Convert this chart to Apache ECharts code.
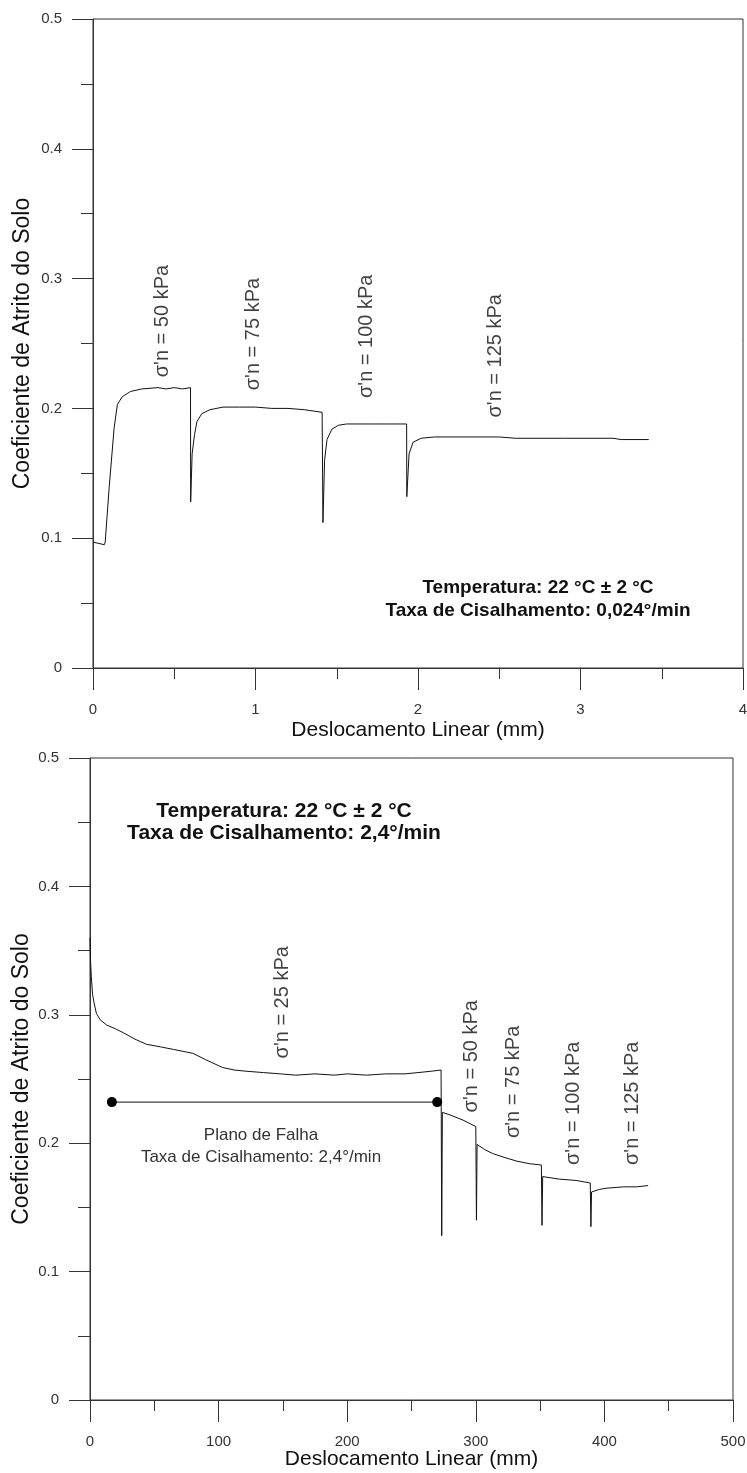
<!DOCTYPE html>
<html><head><meta charset="utf-8">
<script src="https://cdn.jsdelivr.net/npm/echarts@6/dist/echarts.min.js"></script>
<style>html,body{margin:0;padding:0;background:#fff}#c{width:747px;height:1473px}</style>
</head><body><div id="c"></div>
<script>
// ---- data ----
const topCurve = [[0,0.097],[0.07,0.095],[0.075,0.097],[0.1,0.14],[0.13,0.185],[0.15,0.203],[0.18,0.209],[0.23,0.213],[0.3,0.215],[0.4,0.216],[0.45,0.215],[0.5,0.216],[0.55,0.215],[0.6,0.216],[0.601,0.128],[0.61,0.165],[0.625,0.18],[0.64,0.19],[0.67,0.196],[0.72,0.199],[0.8,0.201],[0.9,0.201],[1.0,0.201],[1.1,0.2],[1.2,0.2],[1.3,0.199],[1.41,0.197],[1.415,0.112],[1.425,0.16],[1.44,0.176],[1.47,0.184],[1.51,0.187],[1.56,0.188],[1.7,0.188],[1.8,0.188],[1.93,0.188],[1.931,0.132],[1.945,0.165],[1.97,0.174],[2.02,0.177],[2.1,0.178],[2.3,0.178],[2.5,0.178],[2.6,0.177],[2.9,0.177],[3.2,0.177],[3.25,0.176],[3.42,0.176]];
const bottomCurve = [[0,0.36],[0.5,0.34],[1,0.33],[2,0.316],[3,0.31],[5,0.301],[8,0.296],[13,0.292],[20,0.289],[26,0.286],[35,0.281],[44,0.277],[55,0.275],[65,0.273],[75,0.271],[80,0.27],[90,0.265],[103,0.259],[112,0.257],[122,0.256],[135,0.255],[148,0.254],[160,0.253],[175,0.254],[190,0.253],[200,0.254],[215,0.253],[230,0.254],[245,0.254],[255,0.255],[265,0.256],[273,0.257],[273.5,0.128],[274,0.224],[280,0.222],[290,0.218],[300,0.213],[300.5,0.14],[301,0.199],[307,0.195],[313,0.192],[322,0.189],[332,0.186],[342,0.184],[351,0.183],[351.5,0.136],[352,0.174],[365,0.172],[378,0.171],[389,0.169],[389.5,0.135],[390,0.162],[396,0.164],[402,0.165],[415,0.166],[425,0.166],[434,0.167]];
const failurePlane = [[17,0.232],[270,0.232]];
const topLabels = ["σ'n = 50 kPa","σ'n = 75 kPa","σ'n = 100 kPa","σ'n = 125 kPa"];
const topLabelAt = [[0.425,0.224],[0.985,0.214],[1.68,0.208],[2.474,0.193]];
const bottomLabels = ["σ'n = 25 kPa","σ'n = 50 kPa","σ'n = 75 kPa","σ'n = 100 kPa","σ'n = 125 kPa"];
const bottomLabelAt = [[150,0.266],[297,0.224],[329,0.204],[376,0.183],[422,0.183]];
const topXRange = [0,4,1];
const bottomXRange = [0,500,100];
const yRange = [0,0.5,0.1];
const xTitle = 'Deslocamento Linear (mm)';
const yTitle = 'Coeficiente de Atrito do Solo';
const topInfo = 'Temperatura: 22 °C ± 2 °C\nTaxa de Cisalhamento: 0,024°/min';
const bottomInfo = 'Temperatura: 22 °C ± 2 °C\nTaxa de Cisalhamento: 2,4°/min';
const planeInfo = 'Plano de Falha\nTaxa de Cisalhamento: 2,4°/min';

const FF = '"Liberation Sans", Arial, sans-serif';
const AX = '#333';
function xAx(gi, r, gap){
  return {type:'value', gridIndex:gi, min:r[0], max:r[1], interval:r[2],
    name:xTitle, nameLocation:'middle', nameGap:gap, nameMoveOverlap:false,
    nameTextStyle:{fontSize:21,color:'#111',fontFamily:FF},
    axisLine:{show:true,onZero:false,lineStyle:{color:AX,width:1}},
    axisTick:{show:true,inside:false,length:22,lineStyle:{color:AX}},
    minorTick:{show:true,splitNumber:2,length:11,lineStyle:{color:AX}},
    splitLine:{show:false}, minorSplitLine:{show:false},
    axisLabel:{margin:34,fontSize:15,color:'#333',fontFamily:FF}};
}
function yAx(gi, gap){
  return {type:'value', gridIndex:gi, min:yRange[0], max:yRange[1], interval:yRange[2],
    name:yTitle, nameLocation:'middle', nameGap:gap, nameMoveOverlap:false,
    nameTextStyle:{fontSize:23,color:'#111',fontFamily:FF},
    axisLine:{show:true,onZero:false,lineStyle:{color:AX,width:1}},
    axisTick:{show:true,inside:false,length:21,lineStyle:{color:AX}},
    minorTick:{show:true,splitNumber:2,length:12,lineStyle:{color:AX}},
    splitLine:{show:false}, minorSplitLine:{show:false},
    axisLabel:{margin:31,fontSize:15,color:'#333',fontFamily:FF}};
}
function labelSeries(gi, pos, txt){
  return {type:'scatter', xAxisIndex:gi, yAxisIndex:gi, symbolSize:0, silent:true,
    data: pos.map((p,i)=>({value:p, label:{formatter:txt[i]}})),
    label:{show:true, position:[0,0], rotate:90, align:'left', verticalAlign:'middle',
      fontSize:20, color:'#111', fontFamily:FF}};
}
const chart = echarts.init(document.getElementById('c'), null, {renderer:'canvas'});
chart.setOption({
  animation:false, backgroundColor:'#fff',
  grid:[
    {left:93, top:19, width:650, height:649, show:true, borderColor:AX, borderWidth:1, containLabel:false, outerBoundsMode:'none'},
    {left:90, top:758, width:643, height:642, show:true, borderColor:AX, borderWidth:1, containLabel:false, outerBoundsMode:'none'}
  ],
  xAxis:[xAx(0, topXRange, 52), xAx(1, bottomXRange, 49)],
  yAxis:[yAx(0, 59), yAx(1, 57)],
  series:[
    {type:'line', xAxisIndex:0, yAxisIndex:0, data:topCurve, showSymbol:false, lineStyle:{color:'#111',width:1}},
    {type:'line', xAxisIndex:1, yAxisIndex:1, data:bottomCurve, showSymbol:false, lineStyle:{color:'#111',width:1}},
    {type:'line', xAxisIndex:1, yAxisIndex:1, data:failurePlane, showSymbol:true, symbol:'circle', symbolSize:10,
      itemStyle:{color:'#000'}, lineStyle:{color:'#111',width:1}},
    labelSeries(0, topLabelAt, topLabels),
    labelSeries(1, bottomLabelAt, bottomLabels)
  ],
  graphic:[
    {type:'text', x:538, y:576, style:{text:topInfo, font:'bold 19px '+FF, textAlign:'center', fill:'#111', lineHeight:23}},
    {type:'text', x:284, y:800, style:{text:bottomInfo, font:'bold 21px '+FF, textAlign:'center', fill:'#111', lineHeight:22}},
    {type:'text', x:261, y:1124, style:{text:planeInfo, font:'17px '+FF, textAlign:'center', fill:'#333', lineHeight:22}}
  ]
});
</script></body></html>
